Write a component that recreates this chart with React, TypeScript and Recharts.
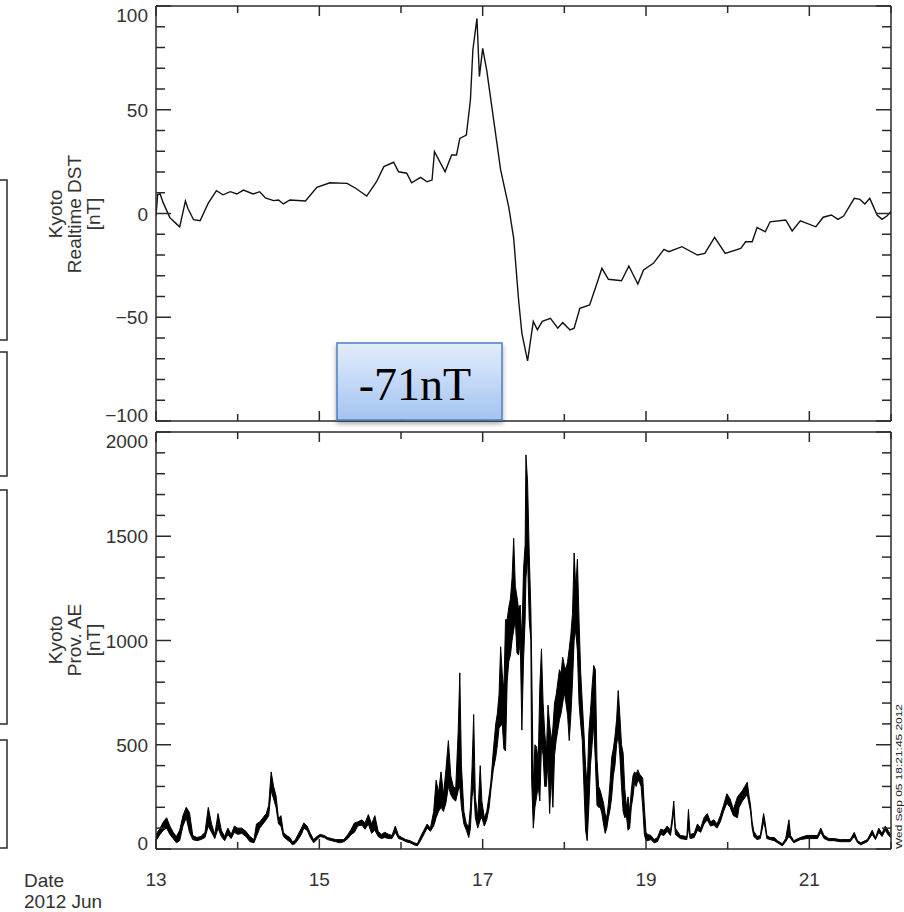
import React from 'react';
import { ComposedChart, Line, Area, XAxis, YAxis } from 'recharts';

// ---------- ticks ----------
const dayTicks = [13, 14, 15, 16, 17, 18, 19, 20, 21, 22];
const dayLabels = [13, 15, 17, 19, 21];
const dstTicks = [-100, -90, -80, -70, -60, -50, -40, -30, -20, -10, 0, 10, 20, 30, 40, 50, 60, 70, 80, 90, 100];
const dstLabels = [-100, -50, 0, 50, 100];
const aeTicks = [0, 100, 200, 300, 400, 500, 600, 700, 800, 900, 1000, 1100, 1200, 1300, 1400, 1500, 1600, 1700, 1800, 1900, 2000];
const aeLabels = [0, 500, 1000, 1500, 2000];

// ---------- Kyoto realtime Dst (day of June 2012, nT) ----------
const dstDay = [
  13.0, 13.02, 13.05, 13.09, 13.13, 13.17, 13.25, 13.29, 13.36, 13.39, 13.46, 13.54, 13.64, 13.74, 13.82, 13.91,
  13.99, 14.07, 14.19, 14.27, 14.34, 14.44, 14.5, 14.56, 14.64, 14.83, 14.97, 15.13, 15.34, 15.44, 15.58, 15.7,
  15.79, 15.91, 15.97, 16.07, 16.13, 16.24, 16.32, 16.38, 16.41, 16.54, 16.62, 16.68, 16.72, 16.8, 16.85, 16.88,
  16.93, 16.96, 17.0, 17.05, 17.22, 17.32, 17.38, 17.44, 17.48, 17.55, 17.62, 17.67, 17.73, 17.83, 17.92, 17.98,
  18.07, 18.12, 18.19, 18.31, 18.4, 18.46, 18.54, 18.7, 18.79, 18.9, 18.97, 19.09, 19.22, 19.28, 19.44, 19.63,
  19.72, 19.84, 19.97, 20.16, 20.22, 20.3, 20.36, 20.46, 20.52, 20.71, 20.79, 20.89, 21.08, 21.17, 21.27, 21.35,
  21.42, 21.55, 21.62, 21.68, 21.74, 21.83, 21.89, 21.95, 22.0,
];
const dstVal = [
  -1, 9, 9.5, 5, 1.5, -2, -5, -6.5, 6, 2.5, -3, -3.5, 5, 11, 9, 10.5,
  9.4, 11.3, 9.4, 10.5, 7.5, 6.2, 6.5, 4.6, 6.5, 6, 12.6, 14.8, 14.5, 12.3, 8.4, 15.3,
  22.6, 24.7, 20.1, 19.4, 14.8, 17.4, 15.3, 16.1, 29.8, 20.1, 28.2, 28.2, 36.2, 37.8, 54.7, 78.8,
  94, 66, 79.6, 69, 21, 3, -12, -41.7, -57.6, -71, -52, -56, -52, -50.5, -55.3, -52.6,
  -56.1, -55.3, -45.7, -44.1, -33.6, -26.4, -31.7, -32.4, -25.3, -34, -27.2, -24, -17.3, -18.4, -16, -20,
  -19.2, -11.5, -19.2, -16.8, -13.6, -13.6, -6.7, -8.8, -4, -3.1, -8.4, -3.5, -6.4, -1.8, -0.7, -2.8,
  -1.2, 7.3, 6.8, 4.6, 7.3, -0.7, -2.8, -1.2, 1,
];

// ---------- Kyoto provisional AE: local min / max envelope (nT) ----------
const aeDay = [
  13.0, 13.05, 13.09, 13.13, 13.17, 13.21, 13.25, 13.29, 13.33, 13.37, 13.41, 13.45, 13.5, 13.55, 13.6, 13.64,
  13.68, 13.72, 13.76, 13.8, 13.84, 13.88, 13.92, 13.96, 14.0, 14.05, 14.1, 14.15, 14.2, 14.23, 14.27, 14.31,
  14.35, 14.38, 14.41, 14.44, 14.47, 14.5, 14.53, 14.56, 14.6, 14.64, 14.67, 14.7, 14.74, 14.78, 14.81, 14.85,
  14.89, 14.93, 14.97, 15.01, 15.06, 15.1, 15.15, 15.2, 15.25, 15.3, 15.35, 15.39, 15.43, 15.47, 15.52, 15.56,
  15.6, 15.64, 15.68, 15.72, 15.76, 15.8, 15.85, 15.89, 15.93, 15.97, 16.01, 16.06, 16.11, 16.16, 16.2, 16.24,
  16.28, 16.32, 16.36, 16.4, 16.43, 16.46, 16.49, 16.52, 16.55, 16.58, 16.61, 16.64, 16.67, 16.7, 16.72, 16.74,
  16.77, 16.8, 16.83, 16.85, 16.87, 16.89, 16.91, 16.94, 16.97, 16.99, 17.02, 17.05, 17.08, 17.1, 17.13, 17.16,
  17.18, 17.2, 17.22, 17.24, 17.26, 17.28, 17.3, 17.32, 17.34, 17.36, 17.38, 17.4, 17.42, 17.44, 17.46, 17.48,
  17.5, 17.52, 17.53, 17.55, 17.57, 17.59, 17.6, 17.62, 17.64, 17.66, 17.68, 17.7, 17.72, 17.74, 17.76, 17.78,
  17.8, 17.82, 17.84, 17.86, 17.88, 17.9, 17.92, 17.94, 17.96, 17.98, 18.0, 18.02, 18.04, 18.06, 18.08, 18.1,
  18.12, 18.14, 18.16, 18.18, 18.2, 18.22, 18.24, 18.26, 18.28, 18.3, 18.32, 18.34, 18.36, 18.38, 18.4, 18.42,
  18.44, 18.46, 18.48, 18.5, 18.52, 18.54, 18.56, 18.58, 18.6, 18.62, 18.64, 18.66, 18.68, 18.7, 18.72, 18.74,
  18.76, 18.78, 18.8, 18.82, 18.84, 18.86, 18.88, 18.9, 18.92, 18.94, 18.96, 18.98, 19.0, 19.02, 19.06, 19.1,
  19.14, 19.18, 19.22, 19.26, 19.3, 19.32, 19.34, 19.36, 19.42, 19.5, 19.52, 19.54, 19.59, 19.63, 19.67, 19.71,
  19.75, 19.79, 19.83, 19.87, 19.91, 19.95, 19.99, 20.03, 20.07, 20.12, 20.14, 20.18, 20.24, 20.26, 20.28, 20.3,
  20.32, 20.36, 20.4, 20.44, 20.46, 20.48, 20.52, 20.57, 20.61, 20.67, 20.71, 20.75, 20.77, 20.81, 20.89, 20.97,
  21.1, 21.14, 21.18, 21.24, 21.3, 21.38, 21.5, 21.55, 21.59, 21.63, 21.71, 21.77, 21.81, 21.85, 21.89, 21.93,
  21.97, 22.0,
];
const aeLow = [
  40, 70, 90, 100, 70, 50, 30, 40, 110, 150, 80, 45, 40, 45, 55, 110,
  80, 50, 100, 60, 40, 70, 50, 80, 70, 75, 60, 35, 30, 60, 100, 120,
  140, 160, 280, 240, 200, 120, 110, 60, 45, 35, 20, 25, 45, 70, 100, 90,
  55, 30, 45, 60, 55, 45, 40, 35, 30, 35, 50, 70, 80, 110, 115, 95,
  120, 75, 90, 60, 50, 55, 50, 50, 80, 50, 45, 35, 30, 20, 15, 40,
  70, 100, 85, 110, 150, 180, 200, 180, 220, 300, 260, 240, 230, 280, 300, 200,
  120, 90, 55, 100, 250, 300, 150, 100, 140, 150, 110, 140, 200, 280, 380, 440,
  500, 580, 590, 600, 480, 470, 800, 900, 930, 1000, 1050, 1100, 940, 930, 1000, 570,
  900, 1100, 1300, 1400, 1100, 1000, 330, 100, 200, 250, 300, 230, 500, 450, 300, 300,
  420, 170, 350, 200, 450, 520, 570, 620, 650, 700, 750, 700, 640, 520, 640, 800,
  1000, 1050, 950, 700, 600, 520, 300, 90, 40, 200, 400, 500, 600, 420, 210, 200,
  200, 170, 120, 75, 100, 150, 190, 250, 350, 400, 500, 550, 450, 300, 180, 150,
  160, 90, 100, 200, 250, 320, 300, 330, 320, 300, 200, 70, 40, 40, 45, 30,
  35, 70, 65, 85, 65, 120, 180, 70, 50, 45, 100, 50, 55, 90, 80, 120,
  140, 110, 115, 100, 130, 180, 220, 200, 160, 150, 200, 230, 260, 220, 180, 100,
  60, 45, 50, 130, 100, 50, 45, 40, 30, 15, 35, 60, 50, 30, 45, 50,
  50, 80, 50, 40, 40, 35, 35, 60, 30, 20, 35, 70, 45, 80, 60, 90,
  65, 55,
];
const aeHigh = [
  70, 100, 130, 150, 110, 80, 60, 90, 160, 200, 175, 65, 55, 60, 80, 200,
  120, 70, 170, 90, 60, 100, 70, 110, 100, 100, 85, 60, 45, 120, 130, 150,
  170, 210, 370, 300, 255, 145, 160, 80, 65, 55, 35, 40, 70, 100, 125, 110,
  75, 45, 60, 70, 65, 55, 50, 45, 45, 45, 70, 95, 125, 130, 140, 125,
  165, 120, 160, 85, 70, 80, 70, 65, 110, 65, 55, 45, 40, 30, 25, 60,
  90, 120, 100, 180, 330, 270, 370, 260, 380, 520, 350, 300, 290, 560, 845, 400,
  180, 120, 110, 200, 390, 645, 250, 150, 400, 230, 150, 180, 260, 320, 470, 600,
  650, 740, 970, 840, 760, 1100, 1100, 1160, 1200, 1300, 1490, 1260, 1210, 1150, 1170, 1000,
  1340, 1460, 1890, 1760, 1420, 1150, 900, 300, 500, 490, 420, 780, 960, 700, 560, 460,
  690, 600, 520, 580, 700, 740, 800, 860, 840, 920, 880, 860, 900, 960, 1030, 1130,
  1420, 1250, 1390, 1100, 850, 700, 560, 400, 300, 560, 660, 780, 880, 860, 430, 300,
  280, 250, 220, 170, 150, 220, 320, 440, 480, 540, 620, 760, 640, 500, 460, 290,
  200, 250, 180, 280, 350, 370, 360, 380, 360, 350, 340, 200, 80, 70, 65, 45,
  55, 95, 90, 110, 90, 150, 230, 100, 65, 60, 190, 70, 75, 120, 100, 150,
  170, 130, 140, 120, 160, 210, 265, 240, 190, 250, 260, 280, 320, 260, 210, 130,
  85, 60, 65, 170, 125, 65, 55, 55, 40, 25, 50, 140, 65, 40, 55, 65,
  65, 100, 65, 50, 50, 45, 45, 80, 40, 30, 45, 90, 55, 100, 75, 110,
  85, 65,
];

const dstData = dstDay.map((d, i) => ({ d, v: dstVal[i] }));
const aeData = aeDay.map((d, i) => ({ d, r: [aeLow[i], aeHigh[i]] }));

// ---------- styling ----------
const AX = '#2a2a2a';
const TXT = '#333';
const FONT = '"Liberation Sans", Arial, sans-serif';
const FS = 19;

const fmtNum = (v: number) => (v < 0 ? '\u2212' + Math.abs(v) : String(v));

const leftTick = (labels: number[], min: number, max: number) => (p: any) => {
  const { x, y, payload } = p;
  const v = payload.value;
  const major = labels.includes(v);
  const len = major ? 15 : 9;
  const dy = v === max ? 9 : v === min ? -6 : 0;
  return (
    <g>
      <line x1={x} x2={x + len} y1={y} y2={y} stroke={AX} strokeWidth={1.5} />
      {major && (
        <text x={x - 8} y={y + dy + 7} textAnchor="end" fontSize={FS} fontFamily={FONT} fill={TXT}>
          {fmtNum(v)}
        </text>
      )}
    </g>
  );
};
const rightTick = (labels: number[]) => (p: any) => {
  const { x, y, payload } = p;
  const len = labels.includes(payload.value) ? 15 : 9;
  return <line x1={x} x2={x - len} y1={y} y2={y} stroke={AX} strokeWidth={1.5} />;
};
const topTick = (p: any) => {
  const { x, y, payload } = p;
  const len = dayLabels.includes(payload.value) ? 10 : 7;
  return <line x1={x} x2={x} y1={y} y2={y + len} stroke={AX} strokeWidth={1.5} />;
};
const bottomTick = (showText: boolean) => (p: any) => {
  const { x, y, payload } = p;
  const major = dayLabels.includes(payload.value);
  const len = major ? 10 : 7;
  return (
    <g>
      <line x1={x} x2={x} y1={y} y2={y - len} stroke={AX} strokeWidth={1.5} />
      {showText && major && (
        <text x={x} y={y + 37} textAnchor="middle" fontSize={FS} fontFamily={FONT} fill={TXT}>
          {payload.value}
        </text>
      )}
    </g>
  );
};

const axisLine = { stroke: AX, strokeWidth: 1.5 };
const W = 904;
const H = 912;

function Panel(props: {
  data: any[];
  top: number;
  bottom: number;
  domain: [number, number];
  ticks: number[];
  labels: number[];
  showX: boolean;
  children: React.ReactNode;
  ghostKey: string;
}) {
  const { data, top, bottom, domain, ticks, labels, showX, children, ghostKey } = props;
  return (
    <div style={{ position: 'absolute', left: 0, top: 0 }}>
      <ComposedChart width={W} height={H} data={data} margin={{ top, right: 3, bottom, left: 96 }}>
        <XAxis
          xAxisId="b"
          dataKey="d"
          type="number"
          domain={[13, 22]}
          ticks={dayTicks}
          interval={0}
          allowDataOverflow
          orientation="bottom"
          height={2}
          tickSize={0}
          tickMargin={0}
          tickLine={false}
          axisLine={axisLine}
          tick={bottomTick(showX)}
        />
        <XAxis
          xAxisId="t"
          dataKey="d"
          type="number"
          domain={[13, 22]}
          ticks={dayTicks}
          interval={0}
          allowDataOverflow
          orientation="top"
          height={2}
          tickSize={0}
          tickMargin={0}
          tickLine={false}
          axisLine={axisLine}
          tick={topTick}
        />
        <YAxis
          yAxisId="l"
          type="number"
          domain={domain}
          ticks={ticks}
          interval={0}
          allowDataOverflow
          orientation="left"
          width={60}
          tickSize={0}
          tickMargin={0}
          tickLine={false}
          axisLine={axisLine}
          tick={leftTick(labels, domain[0], domain[1])}
        />
        <YAxis
          yAxisId="r"
          type="number"
          domain={domain}
          ticks={ticks}
          interval={0}
          allowDataOverflow
          orientation="right"
          width={10}
          tickSize={0}
          tickMargin={0}
          tickLine={false}
          axisLine={axisLine}
          tick={rightTick(labels)}
        />
        {children}
        <Line
          xAxisId="t"
          yAxisId="r"
          dataKey={ghostKey}
          stroke="none"
          dot={false}
          activeDot={false}
          isAnimationActive={false}
        />
      </ComposedChart>
    </div>
  );
}

export default function App() {
  const frag = [
    [180, 340],
    [352, 476],
    [490, 724],
    [740, 848],
  ];
  return (
    <div style={{ position: 'absolute', left: 0, top: 0, width: W, height: H, background: '#fff', overflow: 'hidden' }}>
      <Panel data={dstData} top={4} bottom={H - 421 - 2} domain={[-100, 100]} ticks={dstTicks} labels={dstLabels} showX={false} ghostKey="v">
        <Line
          xAxisId="b"
          yAxisId="l"
          type="linear"
          dataKey="v"
          stroke="#111"
          strokeWidth={1.4}
          dot={false}
          activeDot={false}
          isAnimationActive={false}
        />
      </Panel>
      <Panel data={aeData} top={430} bottom={H - 849 - 2} domain={[0, 2000]} ticks={aeTicks} labels={aeLabels} showX={true} ghostKey="d">
        <Area
          xAxisId="b"
          yAxisId="l"
          type="linear"
          dataKey="r"
          stroke="#000"
          strokeWidth={1}
          fill="#000"
          fillOpacity={1}
          dot={false}
          activeDot={false}
          isAnimationActive={false}
        />
      </Panel>
      <svg width={W} height={H} style={{ position: 'absolute', left: 0, top: 0, pointerEvents: 'none' }}>
        <defs>
          <linearGradient id="boxg" x1="0" y1="0" x2="0" y2="1">
            <stop offset="0" stopColor="#e3edfb" />
            <stop offset="1" stopColor="#a3c3f1" />
          </linearGradient>
          <filter id="sh" x="-20%" y="-20%" width="140%" height="160%">
            <feDropShadow dx="0" dy="3" stdDeviation="2.5" floodColor="#000" floodOpacity="0.35" />
          </filter>
        </defs>
        {frag.map(([a, b], i) => (
          <polyline key={i} points={`0,${a} 7,${a} 7,${b} 0,${b}`} fill="none" stroke={AX} strokeWidth={1.5} />
        ))}
        <text transform="translate(62,214) rotate(-90)" textAnchor="middle" fontSize={FS} fontFamily={FONT} fill={TXT}>
          <tspan x={0} dy={0}>Kyoto</tspan>
          <tspan x={0} dy={19}>Realtime DST</tspan>
          <tspan x={0} dy={19}>[nT]</tspan>
        </text>
        <text transform="translate(62,640) rotate(-90)" textAnchor="middle" fontSize={FS} fontFamily={FONT} fill={TXT}>
          <tspan x={0} dy={0}>Kyoto</tspan>
          <tspan x={0} dy={19}>Prov. AE</tspan>
          <tspan x={0} dy={19}>[nT]</tspan>
        </text>
        <text x={24} y={887} fontSize={FS} fontFamily={FONT} fill={TXT}>Date</text>
        <text x={24} y={908} fontSize={FS} fontFamily={FONT} fill={TXT}>2012 Jun</text>
        <text
          transform="translate(902,849) rotate(-90)"
          fontSize={9}
          fontFamily={FONT}
          fill="#222"
          textLength={145}
          lengthAdjust="spacingAndGlyphs"
        >
          Wed Sep 05 18:21:45 2012
        </text>
        <rect x={337} y={343} width={165} height={77} fill="url(#boxg)" stroke="#4f7fc0" strokeWidth={1.5} filter="url(#sh)" />
        <text x={415} y={400} textAnchor="middle" fontSize={46} fontFamily={'"Liberation Serif", "Times New Roman", serif'} fill="#000">
          -71nT
        </text>
      </svg>
    </div>
  );
}
